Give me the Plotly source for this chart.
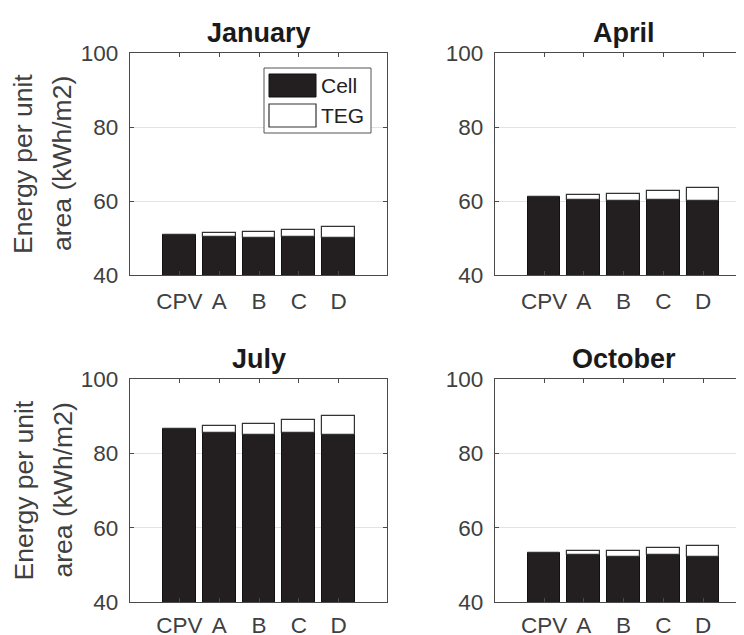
import plotly.graph_objects as go

# ---------------- data ----------------
categories = ["CPV", "A", "B", "C", "D"]
months = ["January", "April", "July", "October"]

cell_jan = [50.7, 50.2, 49.9, 50.2, 49.9]
teg_jan = [0.0, 1.2, 1.7, 2.0, 3.2]

cell_apr = [61.0, 60.2, 59.9, 60.2, 59.9]
teg_apr = [0.0, 1.4, 2.0, 2.6, 3.5]

cell_jul = [86.5, 85.6, 85.0, 85.6, 85.0]
teg_jul = [0.0, 1.8, 3.0, 3.3, 5.0]

cell_oct = [53.1, 52.6, 52.2, 52.6, 52.2]
teg_oct = [0.0, 1.1, 1.5, 2.0, 3.0]

y_ticks = [40, 60, 80, 100]
y_range = [40, 100]
series_names = ["Cell", "TEG"]
y_label_lines = ["Energy per unit", "area (kWh/m2)"]

# ---------------- layout helpers ----------------
OFF = 8  # page body margin
W, H = 744 - OFF, 635 - OFF


def px(x):
    return (x - OFF) / W


def py(y):
    return 1 - (y - OFF) / H


FONT = "Liberation Sans, Arial, Helvetica, sans-serif"
AX_COLOR = "#4a4a4a"
TXT_COLOR = "#404040"
CELL_COLOR = "#231f20"

# title, cell, teg, x pixel span, y pixel span, x range, left column?, x label standoff
panels = [
    (months[0], cell_jan, teg_jan, (130, 387), (53, 275), [-1.245, 5.22], True, 6),
    (months[1], cell_apr, teg_apr, (495, 744), (53, 275), [-1.233, 5.03], False, 6),
    (months[2], cell_jul, teg_jul, (130, 387), (379, 602), [-1.245, 5.22], True, 3),
    (months[3], cell_oct, teg_oct, (495, 744), (379, 602), [-1.233, 5.03], False, 3),
]

fig = go.Figure()
annotations = []

for i, (title, cell, teg, xpx, ypx, xr, left_col, xstand) in enumerate(panels):
    n = i + 1
    xa = "x" if n == 1 else f"x{n}"
    ya = "y" if n == 1 else f"y{n}"
    fig.add_trace(go.Bar(
        x=categories, y=cell, name=series_names[0], xaxis=xa, yaxis=ya,
        width=0.82, marker=dict(color=CELL_COLOR, line=dict(color="#111111", width=1)),
        showlegend=False, offsetgroup=str(n)))
    fig.add_trace(go.Bar(
        x=categories, y=teg, name=series_names[1], xaxis=xa, yaxis=ya,
        width=0.82, marker=dict(color="#ffffff", line=dict(color="#333333", width=1.2)),
        showlegend=False, offsetgroup=str(n), base=cell))

    xkey = "xaxis" if n == 1 else f"xaxis{n}"
    ykey = "yaxis" if n == 1 else f"yaxis{n}"
    fig.layout[xkey] = dict(
        domain=[px(xpx[0]), min(1.0, px(xpx[1]))], anchor=ya, range=xr,
        type="category", categoryorder="array", categoryarray=categories,
        showline=True, linecolor=AX_COLOR, linewidth=1.2, mirror="ticks",
        ticks="inside", ticklen=4, tickcolor=AX_COLOR, tickwidth=1,
        showgrid=False, zeroline=False, fixedrange=True, automargin=False,
        tickfont=dict(family=FONT, size=22.5, color=TXT_COLOR),
        ticklabelstandoff=xstand,
    )
    fig.layout[ykey] = dict(
        domain=[py(ypx[1]), py(ypx[0])], anchor=xa, range=y_range,
        tickvals=y_ticks, showline=True, linecolor=AX_COLOR, linewidth=1.2,
        mirror="ticks" if left_col else False,
        ticks="inside", ticklen=4, tickcolor=AX_COLOR, tickwidth=1,
        showgrid=True, gridcolor="#e3e3e3", gridwidth=1, zeroline=False,
        fixedrange=True, automargin=False,
        tickfont=dict(family=FONT, size=22.5, color=TXT_COLOR),
        ticklabelstandoff=6,
    )

    # panel title
    annotations.append(dict(
        text=f"<b>{title}</b>", xref="paper", yref="paper",
        x=px(xpx[0] + 129), y=py(ypx[0]),
        xanchor="center", yanchor="bottom", yshift=3, showarrow=False,
        font=dict(family=FONT, size=27, color="#1a1a1a")))

    # y-axis label (two rotated lines) for left column
    if left_col:
        yc = (ypx[0] + ypx[1]) / 2
        for line_text, xc in zip(y_label_lines, (23, 62)):
            annotations.append(dict(
                text=line_text, xref="paper", yref="paper",
                x=px(xc), y=py(yc), xanchor="center", yanchor="middle",
                textangle=-90, showarrow=False,
                font=dict(family=FONT, size=26.5, color=TXT_COLOR)))

# custom legend inside the January panel
shapes = [
    dict(type="rect", xref="paper", yref="paper", x0=px(264), x1=px(371),
         y0=py(133), y1=py(68), fillcolor="#ffffff", line=dict(color="#555555", width=1),
         layer="above"),
    dict(type="rect", xref="paper", yref="paper", x0=px(269), x1=px(316),
         y0=py(97), y1=py(74), fillcolor=CELL_COLOR, line=dict(color="#111111", width=1),
         layer="above"),
    dict(type="rect", xref="paper", yref="paper", x0=px(269), x1=px(316),
         y0=py(127), y1=py(104), fillcolor="#ffffff", line=dict(color="#333333", width=1.2),
         layer="above"),
]
for name, yc in zip(series_names, (85.5, 115.5)):
    annotations.append(dict(
        text=name, xref="paper", yref="paper", x=px(319), y=py(yc),
        xanchor="left", yanchor="middle", showarrow=False,
        font=dict(family=FONT, size=21, color="#222222")))

fig.update_layout(
    width=W, height=H, margin=dict(l=0, r=0, t=0, b=0),
    paper_bgcolor="white", plot_bgcolor="white",
    barmode="overlay", bargap=0, showlegend=False,
    annotations=annotations, shapes=shapes,
    font=dict(family=FONT, color=TXT_COLOR),
)

fig.write_html("out.html", config={"displayModeBar": False})
